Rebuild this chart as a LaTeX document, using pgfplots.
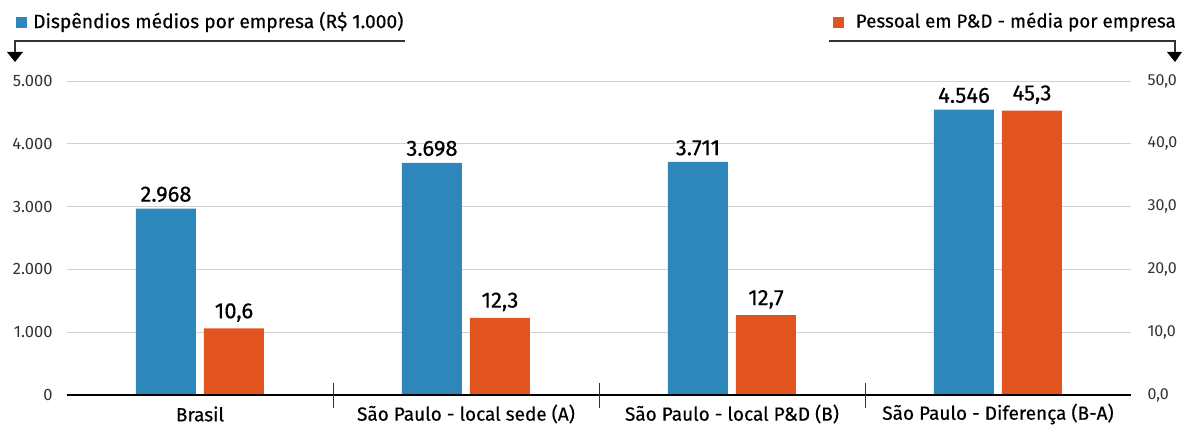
\documentclass[border=0pt]{standalone}
\usepackage{fontspec}
\setmainfont{Fira Sans}
\newfontfamily\medfont{Fira Sans}[FakeBold=0.4]
\usepackage{pgfplots}
\pgfplotsset{compat=1.18}
\definecolor{cblue}{HTML}{2E87BA}
\definecolor{corange}{HTML}{E2541F}
\definecolor{tgray}{HTML}{333333}
\begin{document}
\begin{tikzpicture}[x=1pt,y=1pt]
\path[use as bounding box] (0,0) rectangle (1182,425);
\pgfplotsset{
  common/.style={
    at={(67pt,30pt)}, anchor=south west,
    scale only axis, width=1064pt, height=314pt,
    xmin=-0.5, xmax=3.5,
    ybar, bar width=60pt,
    major tick length=0pt,
    clip=false,
    /pgf/number format/assume math mode=true,
    axis x line=none,
  }
}
\begin{axis}[common,
  ymin=0, ymax=5000,
  axis y line*=left, y axis line style={draw=none},
  ytick={0,1000,2000,3000,4000,5000},
  ymajorgrids, grid style={black!18, line width=0.8pt},
  yticklabel style={font=\fontsize{16.5}{16.5}\selectfont, text=tgray, xshift=-11pt,
    /pgf/number format/.cd, fixed, precision=0, 1000 sep={.}},
  bar shift=-34pt,
  nodes near coords={\pgfmathprintnumber[fixed,precision=0,1000 sep={.},assume math mode=true]{\pgfplotspointmeta}},
  every node near coord/.append style={font=\medfont\fontsize{22}{22}\selectfont, text=black, yshift=3pt},
]
\addplot[fill=cblue, draw=none] coordinates {(0,2968) (1,3698) (2,3711) (3,4546)};
\end{axis}
\begin{axis}[common,
  ymin=0, ymax=50,
  axis y line*=right, y axis line style={draw=none},
  ytick={0,10,20,30,40,50},
  yticklabel style={font=\fontsize{16}{16}\selectfont, text=tgray, xshift=13pt,
    /pgf/number format/.cd, fixed, fixed zerofill, precision=1, use comma},
  bar shift=34pt,
  nodes near coords={\pgfmathprintnumber[fixed,fixed zerofill,precision=1,use comma,assume math mode=true]{\pgfplotspointmeta}},
  every node near coord/.append style={font=\medfont\fontsize{22}{22}\selectfont, text=black, yshift=3pt},
]
\addplot[fill=corange, draw=none] coordinates {(0,10.6) (1,12.3) (2,12.7) (3,45.3)};
\draw[black, line width=2.5pt] (axis cs:-0.5,0) -- (axis cs:3.5,0);
\draw[tgray, line width=0.9pt] ([yshift=12pt]axis cs:0.5,0) -- ([yshift=-13pt]axis cs:0.5,0);
\draw[tgray, line width=0.9pt] ([yshift=12pt]axis cs:1.5,0) -- ([yshift=-13pt]axis cs:1.5,0);
\draw[tgray, line width=0.9pt] ([yshift=12pt]axis cs:2.5,0) -- ([yshift=-13pt]axis cs:2.5,0);
\node[font=\medfont\fontsize{19}{19}\selectfont, text=black, yshift=-19pt] at (axis cs:0,0) {Brasil};
\node[font=\medfont\fontsize{19}{19}\selectfont, text=black, yshift=-19pt] at (axis cs:1,0) {São Paulo - local sede (A)};
\node[font=\medfont\fontsize{19}{19}\selectfont, text=black, yshift=-19pt] at (axis cs:2,0) {São Paulo - local P\&D (B)};
\node[font=\medfont\fontsize{19}{19}\selectfont, text=black, yshift=-19pt] at (axis cs:3,0) {São Paulo - Diferença (B-A)};
\end{axis}
% legends
\fill[cblue] (16,397) rectangle (27,408);
\node[anchor=west, font=\medfont\fontsize{19.2}{19.2}\selectfont, inner sep=0pt] at (33,403) {Dispêndios médios por empresa (R\$ 1.000)};
\draw[tgray, line width=1.8pt] (405,384) -- (15,384) -- (15,371);
\fill[black] (7,373) -- (23,373) -- (15,363) -- cycle;
\fill[corange] (833,397) rectangle (844,408);
\node[anchor=east, font=\medfont\fontsize{18.8}{18.8}\selectfont, inner sep=0pt] at (1176,403) {Pessoal em P\&D - média por empresa};
\draw[tgray, line width=1.8pt] (829,384) -- (1175,384) -- (1175,371);
\fill[black] (1167,373) -- (1182,373) -- (1175,363) -- cycle;
\end{tikzpicture}
\end{document}
